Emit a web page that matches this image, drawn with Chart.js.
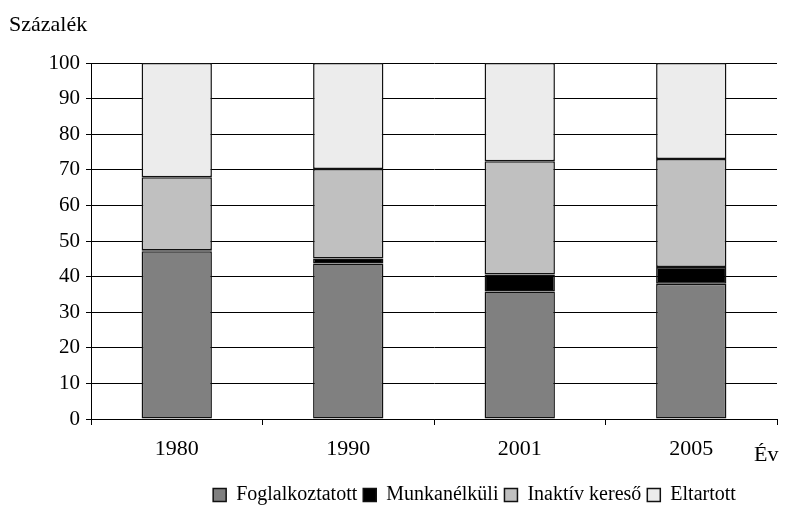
<!DOCTYPE html>
<html>
<head>
<meta charset="utf-8">
<script src="https://cdn.jsdelivr.net/npm/chart.js@4"></script>
<style>
  body { margin: 0; background: #fff; }
  #wrap { width: 793px; height: 516px; position: relative; }
</style>
</head>
<body>
<div id="wrap"><canvas id="chart"></canvas></div>
<script>
const years = ['1980', '1990', '2001', '2005'];
const foglalkoztatott = [47.1, 43.7, 35.8, 38.0];
const munkanelkuli = [0.3, 1.4, 4.8, 4.7];
const inaktivKereso = [20.5, 25.1, 31.8, 30.3];
const eltartott = [32.1, 29.8, 27.6, 27.0];
const yTicks = [0, 10, 20, 30, 40, 50, 60, 70, 80, 90, 100];

const serif = 'Liberation Serif';

// axis captions: "Százalék" above the y axis, "Év" right of the x axis
const captions = {
    id: 'captions',
    afterLayout(chart) {
        // legend sits right of the canvas centre in the original
        chart.legend.left += 86;
        chart.legend.right += 86;
    },
    afterDraw(chart) {
        const ctx = chart.ctx;
        ctx.save();
        ctx.fillStyle = '#000';
        ctx.font = '22px "' + serif + '"';
        ctx.textBaseline = 'middle';
        ctx.textAlign = 'left';
        ctx.fillText('Százalék', 9, 25);
        ctx.fillText('Év', 754, 455);
        ctx.restore();
    }
};

const makeSet = (label, data, color) => ({
    label: label,
    data: data,
    backgroundColor: color,
    borderColor: '#111',
    borderWidth: 1.5,
    borderSkipped: false,
    categoryPercentage: 1,
    barPercentage: 0.41
});

new Chart(document.getElementById('chart'), {
    type: 'bar',
    data: {
        labels: years,
        datasets: [
            makeSet('Foglalkoztatott', foglalkoztatott, '#808080'),
            makeSet('Munkanélküli', munkanelkuli, '#000000'),
            makeSet('Inaktív kereső', inaktivKereso, '#c0c0c0'),
            makeSet('Eltartott', eltartott, '#ececec')
        ]
    },
    options: {
        responsive: true,
        maintainAspectRatio: false,
        animation: false,
        layout: { padding: { top: 63, right: 16, bottom: 1, left: 0 } },
        plugins: {
            legend: {
                position: 'bottom',
                labels: {
                    color: '#000',
                    font: { family: serif, size: 20 },
                    boxWidth: 13,
                    boxHeight: 13,
                    padding: 6
                }
            },
            tooltip: { enabled: false }
        },
        scales: {
            x: {
                stacked: true,
                grid: {
                    offset: true,
                    drawOnChartArea: false,
                    drawTicks: true,
                    tickLength: 6,
                    color: '#000'
                },
                border: { color: '#000', width: 1 },
                ticks: {
                    color: '#000',
                    font: { family: serif, size: 22 },
                    padding: 11
                },
                afterFit(scale) { scale.height = 60; }
            },
            y: {
                stacked: true,
                min: 0,
                max: 100,
                afterBuildTicks(scale) {
                    scale.ticks = yTicks.map(v => ({ value: v }));
                },
                grid: {
                    color: '#000',
                    lineWidth: 1,
                    tickLength: 5
                },
                border: { color: '#000', width: 1 },
                ticks: {
                    color: '#000',
                    font: { family: serif, size: 21 },
                    padding: 6
                },
                afterFit(scale) { scale.width = 91; }
            }
        }
    },
    plugins: [captions]
});
</script>
</body>
</html>
